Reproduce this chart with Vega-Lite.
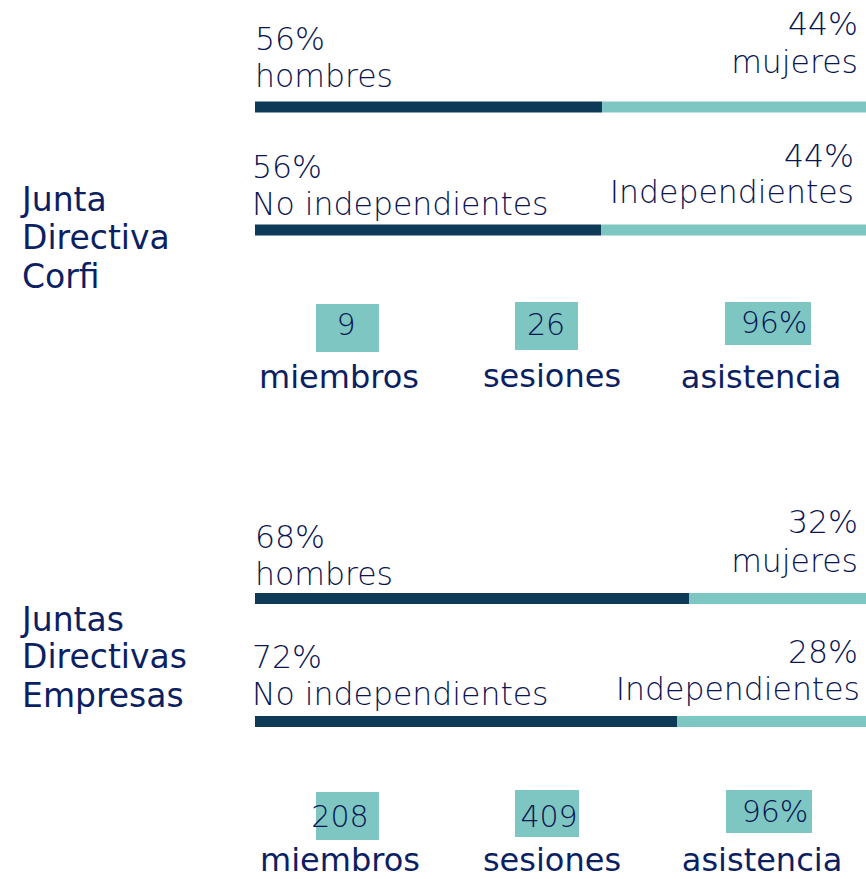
{
  "$schema": "https://vega.github.io/schema/vega-lite/v6.json",
  "width": 866,
  "height": 879,
  "padding": 0,
  "autosize": {"type": "fit", "contains": "padding"},
  "background": "#ffffff",
  "config": {"view": {"stroke": null}},
  "datasets": {
    "bars": [
      {"section": "Junta Directiva Corfi", "metric": "género", "segment": "hombres", "start": 0, "end": 56.79, "top": 101.5, "bottom": 112.5},
      {"section": "Junta Directiva Corfi", "metric": "género", "segment": "mujeres", "start": 56.79, "end": 100, "top": 101.5, "bottom": 112.5},
      {"section": "Junta Directiva Corfi", "metric": "independencia", "segment": "no", "start": 0, "end": 56.63, "top": 224.5, "bottom": 235.5},
      {"section": "Junta Directiva Corfi", "metric": "independencia", "segment": "si", "start": 56.63, "end": 100, "top": 224.5, "bottom": 235.5},
      {"section": "Juntas Directivas Empresas", "metric": "género", "segment": "hombres", "start": 0, "end": 71.03, "top": 593, "bottom": 604},
      {"section": "Juntas Directivas Empresas", "metric": "género", "segment": "mujeres", "start": 71.03, "end": 100, "top": 593, "bottom": 604},
      {"section": "Juntas Directivas Empresas", "metric": "independencia", "segment": "no", "start": 0, "end": 69.07, "top": 716, "bottom": 727},
      {"section": "Juntas Directivas Empresas", "metric": "independencia", "segment": "si", "start": 69.07, "end": 100, "top": 716, "bottom": 727}
    ],
    "boxes": [
      {"kpi": "miembros", "x0": 9.98, "x1": 20.29, "top": 304, "bottom": 352},
      {"kpi": "sesiones", "x0": 42.55, "x1": 52.86, "top": 302, "bottom": 350},
      {"kpi": "asistencia", "x0": 76.92, "x1": 91.0, "top": 302, "bottom": 345},
      {"kpi": "miembros", "x0": 9.98, "x1": 20.29, "top": 792, "bottom": 840},
      {"kpi": "sesiones", "x0": 42.55, "x1": 53.03, "top": 790, "bottom": 837},
      {"kpi": "asistencia", "x0": 77.09, "x1": 91.16, "top": 790, "bottom": 833}
    ],
    "texts": [
      {"kind": "bodyL", "label": "56%", "x": 0, "y": 50},
      {"kind": "bodyL", "label": "hombres", "x": 0, "y": 87},
      {"kind": "bodyR", "label": "44%", "x": 98.69, "y": 35},
      {"kind": "bodyR", "label": "mujeres", "x": 98.69, "y": 73},
      {"kind": "bodyL", "label": "56%", "x": -0.49, "y": 178},
      {"kind": "bodyL", "label": "No independientes", "x": -0.49, "y": 215},
      {"kind": "bodyR", "label": "44%", "x": 98.04, "y": 167},
      {"kind": "bodyR", "label": "Independientes", "x": 98.04, "y": 203},
      {"kind": "head", "label": "Junta", "x": -38.13, "y": 211},
      {"kind": "head", "label": "Directiva", "x": -38.13, "y": 249},
      {"kind": "head", "label": "Corfi", "x": -38.13, "y": 288},
      {"kind": "num", "label": "9", "x": 14.89, "y": 335},
      {"kind": "num", "label": "26", "x": 47.63, "y": 335},
      {"kind": "num", "label": "96%", "x": 84.94, "y": 333},
      {"kind": "lab", "label": "miembros", "x": 13.75, "y": 388},
      {"kind": "lab", "label": "sesiones", "x": 48.61, "y": 387},
      {"kind": "lab", "label": "asistencia", "x": 82.82, "y": 388},
      {"kind": "bodyL", "label": "68%", "x": 0, "y": 548},
      {"kind": "bodyL", "label": "hombres", "x": 0, "y": 585},
      {"kind": "bodyR", "label": "32%", "x": 98.69, "y": 533},
      {"kind": "bodyR", "label": "mujeres", "x": 98.69, "y": 572},
      {"kind": "bodyL", "label": "72%", "x": -0.49, "y": 668},
      {"kind": "bodyL", "label": "No independientes", "x": -0.49, "y": 705},
      {"kind": "bodyR", "label": "28%", "x": 98.69, "y": 663},
      {"kind": "bodyR", "label": "Independientes", "x": 99.02, "y": 700},
      {"kind": "head", "label": "Juntas", "x": -38.13, "y": 631},
      {"kind": "head", "label": "Directivas", "x": -38.13, "y": 668},
      {"kind": "head", "label": "Empresas", "x": -38.13, "y": 707},
      {"kind": "num", "label": "208", "x": 13.91, "y": 827},
      {"kind": "num", "label": "409", "x": 48.12, "y": 827},
      {"kind": "num", "label": "96%", "x": 85.11, "y": 822},
      {"kind": "lab", "label": "miembros", "x": 13.91, "y": 871},
      {"kind": "lab", "label": "sesiones", "x": 48.61, "y": 871},
      {"kind": "lab", "label": "asistencia", "x": 82.98, "y": 871}
    ]
  },
  "layer": [
    {
      "data": {"name": "bars"},
      "mark": {"type": "rect"},
      "encoding": {
        "x": {"field": "start", "type": "quantitative", "scale": {"domain": [-41.735, 100], "nice": false, "zero": false}, "axis": null},
        "x2": {"field": "end"},
        "y": {"field": "top", "type": "quantitative", "scale": {"domain": [0, 879], "nice": false, "zero": false, "reverse": true}, "axis": null},
        "y2": {"field": "bottom"},
        "color": {"field": "segment", "type": "nominal", "scale": {"domain": ["hombres", "mujeres", "no", "si"], "range": ["#0e3a57", "#7dc6c2", "#0e3a57", "#7dc6c2"]}, "legend": null}
      }
    },
    {
      "data": {"name": "boxes"},
      "mark": {"type": "rect", "color": "#7dc6c2"},
      "encoding": {
        "x": {"field": "x0", "type": "quantitative"},
        "x2": {"field": "x1"},
        "y": {"field": "top", "type": "quantitative"},
        "y2": {"field": "bottom"}
      }
    },
    {
      "data": {"name": "texts"},
      "transform": [{"filter": "datum.kind === 'bodyL'"}],
      "mark": {"type": "text", "align": "left", "baseline": "alphabetic", "font": "DejaVu Sans", "fontWeight": 200, "fontSize": 31.5, "color": "#0a1552"},
      "encoding": {"x": {"field": "x", "type": "quantitative"}, "y": {"field": "y", "type": "quantitative"}, "text": {"field": "label"}}
    },
    {
      "data": {"name": "texts"},
      "transform": [{"filter": "datum.kind === 'bodyR'"}],
      "mark": {"type": "text", "align": "right", "baseline": "alphabetic", "font": "DejaVu Sans", "fontWeight": 200, "fontSize": 31.5, "color": "#0a1552"},
      "encoding": {"x": {"field": "x", "type": "quantitative"}, "y": {"field": "y", "type": "quantitative"}, "text": {"field": "label"}}
    },
    {
      "data": {"name": "texts"},
      "transform": [{"filter": "datum.kind === 'head'"}],
      "mark": {"type": "text", "align": "left", "baseline": "alphabetic", "font": "DejaVu Sans", "fontWeight": "normal", "fontSize": 33, "color": "#0c1f63"},
      "encoding": {"x": {"field": "x", "type": "quantitative"}, "y": {"field": "y", "type": "quantitative"}, "text": {"field": "label"}}
    },
    {
      "data": {"name": "texts"},
      "transform": [{"filter": "datum.kind === 'num'"}],
      "mark": {"type": "text", "align": "center", "baseline": "alphabetic", "font": "DejaVu Sans", "fontWeight": 200, "fontSize": 30, "color": "#0a1552"},
      "encoding": {"x": {"field": "x", "type": "quantitative"}, "y": {"field": "y", "type": "quantitative"}, "text": {"field": "label"}}
    },
    {
      "data": {"name": "texts"},
      "transform": [{"filter": "datum.kind === 'lab'"}],
      "mark": {"type": "text", "align": "center", "baseline": "alphabetic", "font": "DejaVu Sans", "fontWeight": "normal", "fontSize": 32, "color": "#0c1f63"},
      "encoding": {"x": {"field": "x", "type": "quantitative"}, "y": {"field": "y", "type": "quantitative"}, "text": {"field": "label"}}
    }
  ]
}
